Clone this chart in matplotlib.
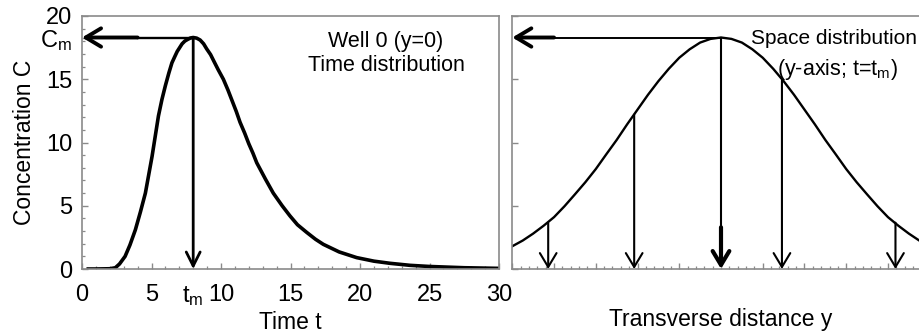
import matplotlib
matplotlib.use("Agg")
import matplotlib.pyplot as plt
from matplotlib.ticker import MultipleLocator

plt.rcParams['font.family'] = ['Liberation Sans', 'DejaVu Sans']
plt.rcParams['mathtext.default'] = 'regular'

# time distribution at well 0 (y=0)
t_time = [0.45, 1.0, 2.0, 2.4, 2.7, 3.1, 3.45, 3.84, 4.2, 4.56, 4.8, 5.04, 5.27, 5.5,
          5.75, 6.0, 6.25, 6.47, 6.7, 6.85, 7.2, 7.4, 7.6, 7.8, 8.0, 8.25, 8.5, 8.75,
          8.97, 9.25, 9.5, 9.8, 10.17, 10.5, 10.8, 11.1, 11.37, 11.7, 12.0, 12.3, 12.57,
          13.2, 13.76, 14.4, 14.96, 15.5, 16.16, 16.8, 17.36, 18.5, 19.76, 21.0, 22.16,
          23.6, 25.0, 27.5, 30.0]
c_time = [0.0, 0.0, 0.02, 0.1, 0.4, 1.0, 1.9, 3.1, 4.5, 6.0, 7.45, 8.9, 10.5, 12.1,
          13.4, 14.5, 15.5, 16.3, 16.85, 17.2, 17.8, 18.02, 18.15, 18.26, 18.3, 18.25,
          18.1, 17.8, 17.4, 16.95, 16.4, 15.75, 15.0, 14.15, 13.3, 12.45, 11.6, 10.75,
          9.9, 9.15, 8.4, 7.1, 6.0, 5.0, 4.2, 3.5, 2.9, 2.35, 1.95, 1.35, 0.9, 0.62,
          0.45, 0.29, 0.2, 0.1, 0.05]

# space distribution along y at t = t_m
y_space = [-25, -23.75, -22.5, -21.25, -20, -18.75, -17.5, -16.25, -15, -13.75,
           -12.5, -11.25, -10, -8.75, -7.5, -6.25, -5, -3.75, -2.5, -1.25, 0,
           1.25, 2.5, 3.75, 5, 6.25, 7.5, 8.75, 10, 11.25, 12.5, 13.75, 15,
           16.25, 17.5, 18.75, 20, 21.25, 22.5, 23.75, 25]
c_space = [1.8, 2.25, 2.8, 3.42, 4.1, 4.96, 5.9, 6.86, 7.9, 9.06,
           10.2, 11.43, 12.6, 13.77, 14.85, 15.83, 16.7, 17.37, 17.9, 18.19, 18.3,
           18.19, 17.9, 17.37, 16.7, 15.83, 14.85, 13.77, 12.6, 11.43, 10.2, 9.06, 7.9,
           6.86, 5.9, 4.96, 4.1, 3.42, 2.8, 2.25, 1.8]

t_m = 8.0
c_m = 18.3

# observation wells (position, concentration at t_m)
well_y = [-20.7, -10.4, 0.0, 7.3, 20.9]
well_c = [3.66, 12.2, 18.3, 14.9, 3.66]

x_ticks = [0, 5, t_m, 10, 15, 20, 25, 30]
x_tick_labels = ['0', '5', 't$_m$', '10', '15', '20', '25', '30']
y_ticks = [0, 5, 10, 15, c_m, 20]
y_tick_labels = ['0', '5', '10', '15', 'C$_m$', '20']

spine_col = '#8a8a8a'

fig = plt.figure(figsize=(9.19, 3.32), dpi=100)
W, H = 919.0, 332.0
ax1 = fig.add_axes([82 / W, 63 / H, 417 / W, 253 / H])
ax2 = fig.add_axes([512.3 / W, 63 / H, 417.4 / W, 253 / H])


def arrow(ax, head, tail, lw, hl, hw):
    ax.annotate('', xy=head, xytext=tail,
                arrowprops=dict(arrowstyle='->,head_length=%s,head_width=%s' % (hl, hw),
                                lw=lw, color='k', shrinkA=0, shrinkB=0,
                                mutation_scale=20))


for ax in (ax1, ax2):
    for s in ax.spines.values():
        s.set_color(spine_col)
        s.set_linewidth(1.2)
    ax.tick_params(which='both', direction='in', color=spine_col, top=False, right=False)
    ax.tick_params(which='major', length=4, width=1.0)
    ax.tick_params(which='minor', length=2.5, width=0.9)
    ax.set_ylim(0, 20)

# left panel
ax1.plot(t_time, c_time, color='k', lw=2.6, solid_joinstyle='round')
ax1.set_xlim(0, 30)
ax1.set_xticks(x_ticks)
ax1.set_xticklabels(x_tick_labels)
ax1.set_yticks(y_ticks)
ax1.set_yticklabels(y_tick_labels)
ax1.xaxis.set_minor_locator(MultipleLocator(1))
ax1.yaxis.set_minor_locator(MultipleLocator(1))
ax1.tick_params(which='major', labelsize=17)
ax1.tick_params(axis='x', which='major', pad=11)
ax1.tick_params(axis='y', which='major', pad=7)

ax1.plot([4.0, t_m], [c_m, c_m], color='k', lw=1.7)
arrow(ax1, (0, c_m), (4.0, c_m), 2.8, 0.55, 0.33)
arrow(ax1, (t_m, 0), (t_m, c_m), 2.0, 0.5, 0.25)

ax1.text(0.729, 0.901, 'Well 0 (y=0)', transform=ax1.transAxes,
         ha='center', va='center', fontsize=15.5)
ax1.text(0.729, 0.806, 'Time distribution', transform=ax1.transAxes,
         ha='center', va='center', fontsize=15.5)
ax1.set_ylabel('Concentration C', fontsize=16.5)
ax1.yaxis.set_label_coords(-0.11, 0.5)
ax1.set_xlabel('Time t', fontsize=16.5)
ax1.xaxis.set_label_coords(0.5, -0.165)

# right panel
ax2.plot(y_space, c_space, color='k', lw=1.7, solid_joinstyle='round')
ax2.set_xlim(-25, 25)
ax2.set_xticks(range(-25, 26, 5))
ax2.set_yticks([0, 5, 10, 15, 20])
ax2.xaxis.set_minor_locator(MultipleLocator(1))
ax2.tick_params(labelbottom=False, labelleft=False)

ax2.plot([-20.0, 0.0], [c_m, c_m], color='k', lw=1.4)
arrow(ax2, (-25, c_m), (-20.0, c_m), 2.8, 0.55, 0.33)
for y, c in zip(well_y, well_c):
    if y == 0.0:
        ax2.plot([y, y], [c, 3.3], color='k', lw=1.5)
        arrow(ax2, (y, 0), (y, 3.3), 3.0, 0.5, 0.3)
    else:
        arrow(ax2, (y, 0), (y, c), 1.5, 0.5, 0.3)

ax2.text(0.97, 0.913, 'Space distribution', transform=ax2.transAxes,
         ha='right', va='center', fontsize=15)
ax2.text(0.78, 0.79, '(y-axis; t=t$_m$)', transform=ax2.transAxes,
         ha='center', va='center', fontsize=15.5)
ax2.set_xlabel('Transverse distance y', fontsize=16.5)
ax2.xaxis.set_label_coords(0.5, -0.155)

fig.savefig('out.png', dpi=100)
